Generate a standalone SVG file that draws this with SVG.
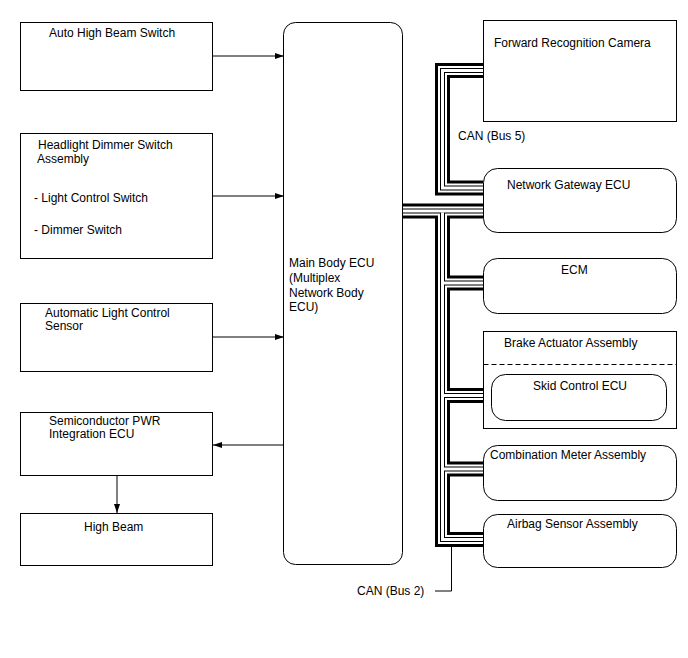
<svg xmlns="http://www.w3.org/2000/svg" xmlns:xlink="http://www.w3.org/1999/xlink" width="688" height="658" viewBox="0 0 688 658">
<style>
.box{fill:#fff;stroke:#000;stroke-width:1}
.t{font-family:"Liberation Sans",Arial,sans-serif;font-size:12px;fill:#000}
.ln{fill:none;stroke:#000;stroke-width:1}
.L1{fill:none;stroke:#000;stroke-width:15}
.L2{fill:none;stroke:#fff;stroke-width:9}
.L3{fill:none;stroke:#000;stroke-width:5}
.L4{fill:none;stroke:#fff;stroke-width:3}
</style>
<defs>
<marker id="ah" markerWidth="9" markerHeight="6" refX="9" refY="3" orient="auto" markerUnits="userSpaceOnUse">
<path d="M0,0 L9,3 L0,6 Z" fill="#000"/>
</marker>
<g id="bus">
<path d="M483,70.5 H442.5 V188 H483"/>
<path d="M403,211 H483"/>
<path d="M442.5,212.5 V539.5 H483"/>
<path d="M444,283 H483"/>
<path d="M444,395.5 H491"/>
<path d="M444,469 H483"/>
</g>
</defs>
<rect width="688" height="658" fill="#fff"/>
<g id="connectors">
<path class="ln" d="M213,56 H284" marker-end="url(#ah)"/>
<path class="ln" d="M212,196 H284" marker-end="url(#ah)"/>
<path class="ln" d="M213,337 H284" marker-end="url(#ah)"/>
<path class="ln" d="M284,445 H213" marker-end="url(#ah)"/>
<path class="ln" d="M117,476 V513" marker-end="url(#ah)"/>
<use xlink:href="#bus" class="L1"/>
<use xlink:href="#bus" class="L2"/>
<use xlink:href="#bus" class="L3"/>
<use xlink:href="#bus" class="L4"/>
<path class="ln" d="M435,591 H451.5 V547"/>
<text class="t" x="458" y="140">CAN (Bus 5)</text>
<text class="t" x="357" y="595">CAN (Bus 2)</text>
</g>
<g id="auto-high-beam-switch">
<rect class="box" x="20.5" y="22.5" width="192" height="68"/>
<text class="t" x="49" y="37">Auto High Beam Switch</text>
</g>
<g id="headlight-dimmer-switch">
<rect class="box" x="20.5" y="133.5" width="192" height="125"/>
<text class="t" x="38" y="149">Headlight Dimmer Switch</text>
<text class="t" x="37" y="162.5">Assembly</text>
<text class="t" x="34" y="201.5">- Light Control Switch</text>
<text class="t" x="34" y="234">- Dimmer Switch</text>
</g>
<g id="auto-light-control-sensor">
<rect class="box" x="20.5" y="303.5" width="192" height="68"/>
<text class="t" x="45" y="316.5">Automatic Light Control</text>
<text class="t" x="45" y="330">Sensor</text>
</g>
<g id="semiconductor-pwr">
<rect class="box" x="20.5" y="412.5" width="192" height="63"/>
<text class="t" x="49" y="424.5">Semiconductor PWR</text>
<text class="t" x="49" y="438">Integration ECU</text>
</g>
<g id="high-beam">
<rect class="box" x="20.5" y="513.5" width="192" height="52"/>
<text class="t" x="84" y="530.5">High Beam</text>
</g>
<g id="main-body-ecu">
<rect class="box" x="283.5" y="22.5" width="119" height="542" rx="12"/>
<text class="t" x="289" y="267">Main Body ECU</text>
<text class="t" x="289" y="282">(Multiplex</text>
<text class="t" x="289" y="296.5">Network Body</text>
<text class="t" x="289" y="311">ECU)</text>
</g>
<g id="forward-recognition-camera">
<rect class="box" x="483.5" y="20.5" width="193" height="101"/>
<text class="t" x="494" y="47">Forward Recognition Camera</text>
</g>
<g id="network-gateway-ecu">
<rect class="box" x="483.5" y="168.5" width="193" height="64" rx="14"/>
<text class="t" x="507" y="189">Network Gateway ECU</text>
</g>
<g id="ecm">
<rect class="box" x="483.5" y="258.5" width="193" height="55" rx="14"/>
<text class="t" x="561" y="274">ECM</text>
</g>
<g id="brake-actuator-assembly">
<rect class="box" x="483.5" y="331.5" width="193" height="97"/>
<line x1="483.5" y1="364.5" x2="676.5" y2="364.5" stroke="#000" stroke-width="1" stroke-dasharray="5,3"/>
<text class="t" x="504" y="347">Brake Actuator Assembly</text>
</g>
<g id="skid-control-ecu">
<rect class="box" x="491.5" y="374.5" width="175" height="46" rx="14"/>
<text class="t" x="533" y="390">Skid Control ECU</text>
</g>
<g id="combination-meter-assembly">
<rect class="box" x="483.5" y="445.5" width="193" height="55" rx="14"/>
<text class="t" x="490" y="459">Combination Meter Assembly</text>
</g>
<g id="airbag-sensor-assembly">
<rect class="box" x="483.5" y="514.5" width="193" height="53" rx="14"/>
<text class="t" x="507" y="528">Airbag Sensor Assembly</text>
</g>
</svg>
